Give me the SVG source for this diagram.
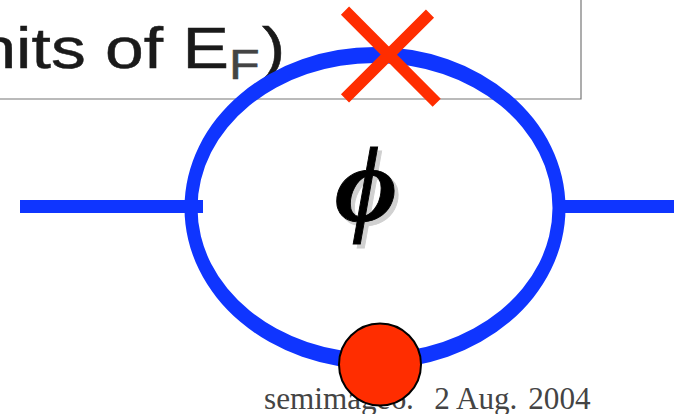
<svg xmlns="http://www.w3.org/2000/svg" width="686" height="414" viewBox="0 0 686 414">
<style>
.w{stroke:#0f35ff;stroke-width:13;fill:none}
.r{fill:#0f35ff;fill-rule:evenodd}
.x{stroke:#ff2d00;stroke-width:11.5;fill:none}
.s{font-family:"Liberation Sans",Arial,sans-serif;fill:#1a1a1a;stroke:#1a1a1a;stroke-width:.5}
.f{font-family:"Liberation Serif","DejaVu Serif",serif;font-weight:bold;font-style:italic;font-size:108px;stroke-width:.9}
</style>
<rect width="686" height="414" fill="#fff"/>
<g id="frame">
<path d="M0 99H581V0" fill="none" stroke="#777" stroke-width="1.2"/>
<text class="s" font-size="58" transform="translate(-22.600 68) scale(1.2 1)">nits of E</text>
<text class="s" font-size="43" transform="translate(229 79) scale(1.17 1)" style="fill:#444;stroke:#444">F</text>
<text class="s" font-size="58" transform="translate(262 68) scale(1.2 1)">)</text>
</g>
<g id="footer">
<text x="264" y="409" font-family="'Liberation Serif',serif" font-size="31.200" fill="#444" xml:space="preserve">semimage6.   <tspan dx="-3">2 Aug.</tspan> <tspan dx="3">2004</tspan></text>
</g>
<g id="connectors">
<path class="r" d="M184.500 208A190.500 161 0 0 1 565.500 208A190.500 161 0 0 1 184.500 208ZM197.500 208A177.500 145 0 0 0 552.500 208A177.500 145 0 0 0 197.500 208Z"/>
<path class="w" d="M20 206.500H203M565 206.500H674"/>
<path class="x" d="M345 10.600L436.700 102.700M430 13.700L345 98.300"/>
</g>
<g id="phi">
<text class="f" x="339" y="225" fill="#d0d0d0" stroke="#d0d0d0">ϕ</text>
<text class="f" x="335" y="221" fill="#000" stroke="#000">ϕ</text>
</g>
<g id="dot">
<circle cx="380" cy="364.500" r="41" fill="#ff2d00" stroke="#000" stroke-width="2"/>
</g>
</svg>
